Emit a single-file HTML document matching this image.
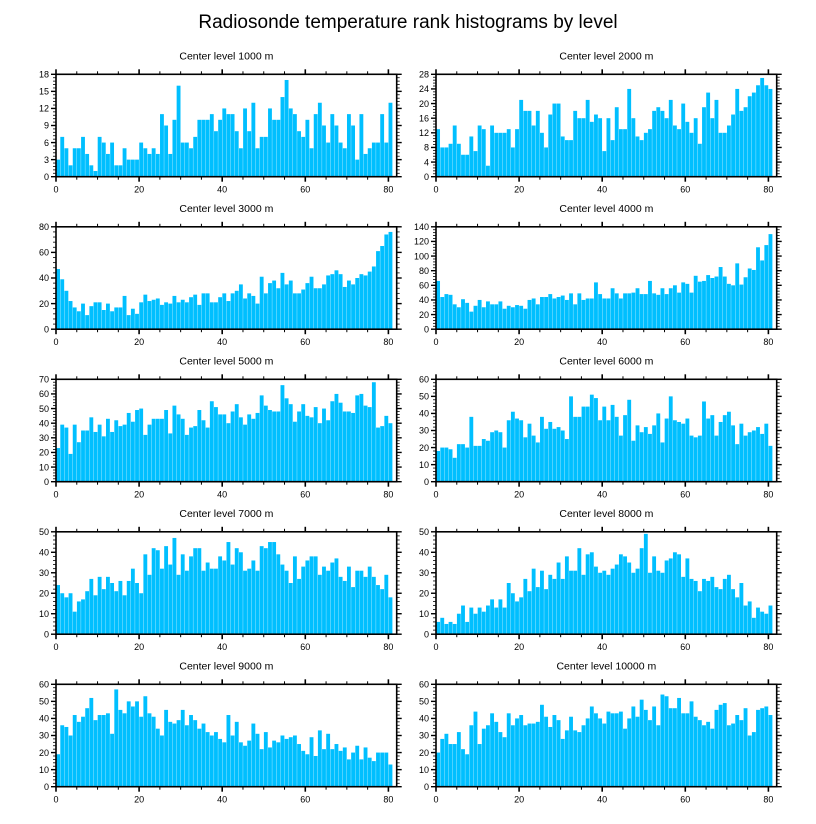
<!DOCTYPE html>
<html><head><meta charset="utf-8">
<style>
html,body{margin:0;padding:0;background:#fff;}
svg{display:block;font-family:"Liberation Sans",Arial,sans-serif;}
</style></head>
<body>
<svg id="chart" width="816" height="824" viewBox="0 0 816 824" xmlns="http://www.w3.org/2000/svg">
<text x="408" y="28" text-anchor="middle" font-size="19">Radiosonde temperature rank histograms by level</text>
</svg>
<script>
const titles = ["Center level 1000 m","Center level 2000 m","Center level 3000 m","Center level 4000 m","Center level 5000 m","Center level 6000 m","Center level 7000 m","Center level 8000 m","Center level 9000 m","Center level 10000 m"];
const yMaxes = [18,28,80,140,70,60,50,50,60,60];
const ySteps = [3,4,20,20,10,10,10,10,10,10];
const xTicks = [0,20,40,60,80];
const counts1000 = [3,7,5,2,5,5,7,4,2,1,7,6,4,6,2,2,5,3,3,3,6,5,4,5,4,11,9,4,10,16,6,6,5,7,10,10,10,11,8,10,12,11,11,8,5,12,8,13,5,7,7,12,10,10,14,17,12,11,8,7,10,5,11,13,9,6,11,9,6,5,11,9,3,11,4,5,6,6,11,6,13];
const counts2000 = [13,8,8,9,14,9,6,6,11,7,14,13,3,14,12,12,12,13,8,13,21,18,18,14,18,12,8,17,20,20,11,10,10,18,16,16,21,15,17,16,7,16,10,19,13,13,24,16,11,10,12,13,18,19,18,16,21,14,13,20,15,12,16,9,19,23,16,21,12,12,14,17,24,18,19,22,23,25,27,25,24];
const counts3000 = [47,39,30,22,17,14,20,11,18,21,21,15,20,14,17,17,26,11,16,12,21,27,22,23,24,19,21,20,26,21,23,21,25,27,19,28,28,21,21,25,28,22,28,30,35,24,28,26,20,41,28,36,38,32,44,35,38,28,28,31,36,41,32,32,35,42,43,46,43,33,38,35,40,43,42,45,49,61,65,74,76];
const counts4000 = [66,44,48,47,34,30,41,36,24,32,40,30,38,34,34,38,28,32,30,33,32,28,40,42,34,44,44,48,42,44,46,40,49,34,49,40,42,42,64,48,42,42,56,49,42,49,49,50,56,48,48,66,49,47,56,48,56,60,50,64,62,50,73,65,66,74,70,72,85,72,62,60,90,61,71,83,81,112,94,115,130];
const counts5000 = [23,39,37,19,39,27,35,35,44,34,39,31,43,34,42,38,39,47,41,49,50,32,39,43,43,43,49,33,52,46,43,32,37,38,49,42,37,55,51,46,46,40,48,53,44,39,46,43,47,59,52,49,48,48,66,57,53,41,48,53,45,44,51,40,50,42,55,60,54,48,48,47,59,60,52,51,68,37,38,45,40];
const counts6000 = [18,20,20,19,14,22,22,20,38,21,21,25,24,29,30,29,20,36,41,37,36,26,34,27,23,38,31,35,31,32,30,25,50,38,38,44,44,51,49,36,44,36,45,38,27,39,48,24,33,29,32,28,33,40,23,37,50,36,35,34,37,27,26,27,47,37,39,27,35,39,41,33,22,34,27,29,30,32,28,34,21];
const counts7000 = [24,20,18,20,11,16,17,21,27,19,28,22,28,25,21,26,19,26,32,25,20,39,29,42,41,32,43,34,47,29,39,31,38,42,42,31,35,32,32,38,36,45,34,42,40,31,32,36,31,43,42,45,45,39,34,31,25,38,27,33,36,38,38,29,33,31,35,37,28,26,33,23,31,31,28,33,28,24,22,29,18];
const counts8000 = [6,8,5,6,5,10,14,6,13,10,13,11,14,17,13,17,13,25,20,16,18,27,21,32,23,31,22,29,27,35,27,38,31,31,42,29,39,40,33,30,31,29,32,34,39,38,35,30,32,42,49,30,38,31,30,36,37,40,39,28,37,27,26,21,27,26,28,23,22,27,29,22,18,25,14,16,8,13,11,10,14];
const counts9000 = [19,36,35,30,42,38,41,46,52,39,42,42,43,31,57,45,43,50,47,50,41,53,43,41,34,30,45,38,37,39,45,36,42,39,34,37,32,30,32,28,26,42,30,38,26,24,27,37,31,22,32,23,27,26,30,28,29,30,25,21,19,29,18,33,22,31,22,25,21,23,16,20,24,16,23,17,15,20,20,20,13];
const counts10000 = [20,28,31,25,25,32,22,19,36,44,25,34,36,43,38,32,29,43,36,40,42,36,37,37,38,48,41,35,42,39,28,33,41,33,32,36,40,47,43,40,37,44,43,43,44,34,40,47,41,51,45,39,47,36,54,53,46,46,52,43,43,50,41,39,36,38,34,45,48,49,36,37,42,39,46,30,32,45,46,47,42];
const allCounts = [counts1000,counts2000,counts3000,counts4000,counts5000,counts6000,counts7000,counts8000,counts9000,counts10000];

const NS = "http://www.w3.org/2000/svg";
const svg = document.getElementById("chart");
const XMAX = 82;
const PW = 340.7, PH = 102.4;
function mk(tag, attrs, parent){
  const e = document.createElementNS(NS, tag);
  for (const k in attrs) e.setAttribute(k, attrs[k]);
  parent.appendChild(e);
  return e;
}
for (let p = 0; p < 10; p++){
  const col = p % 2, row = Math.floor(p / 2);
  const left = col === 0 ? 56 : 436;
  const top = 74.3 + row * 152.5;
  const bottom = top + PH;
  const ymax = yMaxes[p];
  const xs = v => left + v / XMAX * PW;
  const ys = v => bottom - v / ymax * PH;
  const g = mk("g", {}, svg);
  
  
  const t = mk("text", {x: left + PW / 2, y: top - 15, "text-anchor": "middle", "font-size": "10.5"}, g);
  t.textContent = titles[p];
  
  
  const data = allCounts[p];
  for (let i = 0; i < data.length; i++){
    const r = mk("rect", {x: xs(i) + 0.15, y: ys(data[i]), width: Math.max(0.5, xs(i + 1) - xs(i) - 0.3), height: bottom - ys(data[i]), fill: "#00bfff"}, g);
    
    
  }
  const frame = mk("rect", {x: left, y: top, width: PW, height: PH, fill: "none", stroke: "#000", "stroke-width": "1.6"}, g);
  
  
  for (let v = 0; v <= 80; v += 5){
    const major = v % 20 === 0;
    const L = major ? 5 : 3;
    mk("line", {x1: xs(v), x2: xs(v), y1: bottom, y2: bottom + L, stroke: "#000", "stroke-width": major ? 1.6 : 1}, g);
    mk("line", {x1: xs(v), x2: xs(v), y1: top, y2: top - L, stroke: "#000", "stroke-width": major ? 1.6 : 1}, g);
  }
  for (const v of xTicks){
    const tl = mk("text", {x: xs(v), y: bottom + 16, "text-anchor": "middle", "font-size": "9"}, g);
    tl.textContent = v;
    
    
  }
  const step = ySteps[p], minor = step / 5;
  for (let k = 0; k * minor <= ymax + 1e-9; k++){
    const v = k * minor;
    const major = k % 5 === 0;
    const L = major ? 5 : 3;
    mk("line", {x1: left, x2: left - L, y1: ys(v), y2: ys(v), stroke: "#000", "stroke-width": major ? 1.4 : 0.8}, g);
    mk("line", {x1: left + PW, x2: left + PW + L, y1: ys(v), y2: ys(v), stroke: "#000", "stroke-width": major ? 1.4 : 0.8}, g);
  }
  for (let v = 0; v <= ymax + 1e-9; v += step){
    const tl = mk("text", {x: left - 7, y: ys(v) + 3.2, "text-anchor": "end", "font-size": "9"}, g);
    tl.textContent = v;
    
    
  }
}
</script>
</body></html>
